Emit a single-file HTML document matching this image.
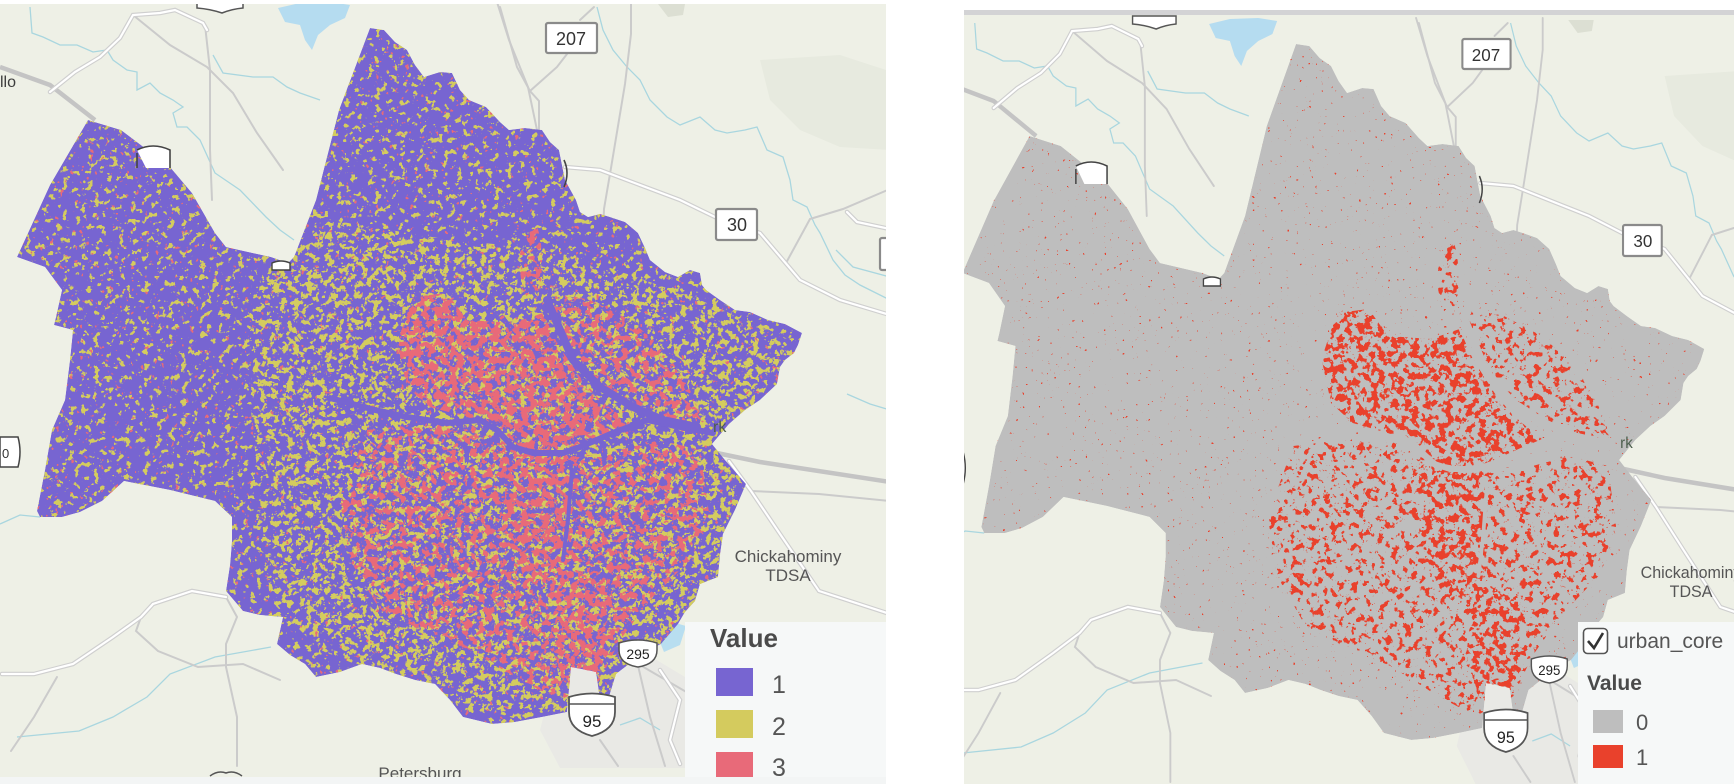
<!DOCTYPE html>
<html><head><meta charset="utf-8"><style>
html,body{margin:0;padding:0;background:#fff;overflow:hidden;width:1734px;height:784px;}
svg{display:block;}
text{font-family:"Liberation Sans",sans-serif;}
</style></head><body>
<svg width="1734" height="784" viewBox="0 0 1734 784" xmlns="http://www.w3.org/2000/svg" xmlns:xlink="http://www.w3.org/1999/xlink">
<defs>
<path id="county" d="M88,120 L121,130 L170,167 L192,193 L215,233 L226,247 L271,257 L288,263 L294,257 L316,200 L339,110 L370,28 L384,30 L395,42 L407,50 L415,65 L424,77 L440,72 L452,73 L460,90 L469,100 L486,107 L500,122 L509,130 L525,128 L542,130 L550,142 L559,150 L562,165 L565,180 L576,200 L580,212 L588,217 L600,214 L610,217 L625,222 L638,233 L645,248 L650,260 L665,272 L678,277 L690,270 L700,273 L702,285 L706,290 L720,300 L735,310 L750,312 L768,320 L785,324 L802,333 L798,345 L794,353 L785,360 L780,367 L777,384 L760,400 L745,410 L729,424 L712,444 L725,460 L746,484 L735,510 L723,534 L720,555 L718,577 L700,584 L695,601 L685,612 L678,624 L661,644 L645,652 L633,661 L616,674 L608,700 L600,700 L596,672 L571,667 L567,712 L542,717 L515,722 L492,724 L463,717 L450,700 L435,684 L415,680 L396,674 L380,668 L362,664 L340,672 L316,677 L305,664 L290,655 L277,644 L283,617 L260,615 L243,611 L226,591 L230,565 L232,541 L232,517 L215,501 L170,490 L124,481 L102,501 L80,512 L62,517 L40,517 L37,511 L45,470 L52,430 L65,400 L70,360 L73,330 L54,325 L56,317 L62,290 L45,267 L17,257 L50,185 Z"/>
<clipPath id="cCounty"><use xlink:href="#county"/></clipPath>
<clipPath id="cMid"><path d="M260,280 L330,220 L450,240 L560,250 L700,300 L790,340 L740,440 L720,580 L640,680 L520,720 L420,690 L320,650 L270,600 L260,500 L250,400 Z"/></clipPath>
<clipPath id="cCore"><path d="M397,343 L413,297 L447,293 L467,320 L513,323 L543,313 L557,343 L580,377 L600,400 L630,423 L580,447 L557,453 L520,447 L497,427 L467,417 L430,407 L407,387 Z"/></clipPath>
<clipPath id="cNE"><path d="M557,293 L590,300 L630,320 L665,350 L690,390 L705,425 L663,420 L633,407 L600,387 L573,360 L550,310 Z"/><ellipse cx="531" cy="262" rx="11" ry="42"/></clipPath>
<clipPath id="cSouth"><path d="M367,430 L410,425 L470,425 L500,440 L530,455 L600,455 L660,440 L700,450 L710,520 L690,560 L650,600 L620,640 L600,680 L560,700 L520,680 L470,650 L420,630 L380,610 L350,560 L340,500 Z"/></clipPath>
<clipPath id="cSD"><path d="M505,455 L568,455 L575,520 L565,575 L530,585 L505,540 Z"/><path d="M560,560 L610,590 L600,680 L570,700 L550,640 Z"/></clipPath>

<filter id="fy1" filterUnits="userSpaceOnUse" x="0" y="0" width="900" height="768" color-interpolation-filters="sRGB">
<feTurbulence type="fractalNoise" baseFrequency="0.16" numOctaves="3" seed="2"/>
<feColorMatrix type="matrix" values="0 0 0 0 0.831 0 0 0 0 0.800 0 0 0 0 0.369 30 0 0 0 -18.5"/>
</filter>
<filter id="fy2" filterUnits="userSpaceOnUse" x="0" y="0" width="900" height="768" color-interpolation-filters="sRGB">
<feTurbulence type="fractalNoise" baseFrequency="0.15" numOctaves="3" seed="5"/>
<feColorMatrix type="matrix" values="0 0 0 0 0.831 0 0 0 0 0.800 0 0 0 0 0.369 30 0 0 0 -17.3"/>
</filter>
<filter id="fp0" filterUnits="userSpaceOnUse" x="0" y="0" width="900" height="768" color-interpolation-filters="sRGB">
<feTurbulence type="fractalNoise" baseFrequency="0.2" numOctaves="2" seed="9"/>
<feColorMatrix type="matrix" values="0 0 0 0 0.910 0 0 0 0 0.416 0 0 0 0 0.475 30 0 0 0 -21.5"/>
</filter>
<filter id="fpM" filterUnits="userSpaceOnUse" x="0" y="0" width="900" height="768" color-interpolation-filters="sRGB">
<feTurbulence type="fractalNoise" baseFrequency="0.14" numOctaves="3" seed="7"/>
<feColorMatrix type="matrix" values="0 0 0 0 0.910 0 0 0 0 0.416 0 0 0 0 0.475 30 0 0 0 -16.6"/>
</filter>
<filter id="fpH" filterUnits="userSpaceOnUse" x="0" y="0" width="900" height="768" color-interpolation-filters="sRGB">
<feTurbulence type="fractalNoise" baseFrequency="0.14" numOctaves="3" seed="7"/>
<feColorMatrix type="matrix" values="0 0 0 0 0.910 0 0 0 0 0.416 0 0 0 0 0.475 30 0 0 0 -14.6"/>
</filter>
<filter id="fr0" filterUnits="userSpaceOnUse" x="0" y="0" width="900" height="768" color-interpolation-filters="sRGB">
<feTurbulence type="fractalNoise" baseFrequency="0.3" numOctaves="2" seed="11"/>
<feColorMatrix type="matrix" values="0 0 0 0 0.914 0 0 0 0 0.255 0 0 0 0 0.173 30 0 0 0 -23"/>
</filter>
<filter id="frM" filterUnits="userSpaceOnUse" x="0" y="0" width="900" height="768" color-interpolation-filters="sRGB">
<feTurbulence type="fractalNoise" baseFrequency="0.14" numOctaves="3" seed="7"/>
<feColorMatrix type="matrix" values="0 0 0 0 0.914 0 0 0 0 0.255 0 0 0 0 0.173 30 0 0 0 -17.6"/>
</filter>
<filter id="frH" filterUnits="userSpaceOnUse" x="0" y="0" width="900" height="768" color-interpolation-filters="sRGB">
<feTurbulence type="fractalNoise" baseFrequency="0.14" numOctaves="3" seed="7"/>
<feColorMatrix type="matrix" values="0 0 0 0 0.914 0 0 0 0 0.255 0 0 0 0 0.173 30 0 0 0 -15.3"/>
</filter>

<g id="base">
 <path d="M760,60 L840,55 L886,70 L890,150 L840,147 L800,130 L770,100 Z" fill="#e7eadf"/>
 <path d="M658,4 L685,4 L683,15 L668,17 Z" fill="#dcdfd3"/>
 <path d="M556,668 L640,650 L690,680 L700,740 L695,768 L560,768 L540,730 Z" fill="#e9e9e5"/>
 <path d="M278,8 L300,3 L330,2 L350,5 L345,18 L330,25 L318,35 L312,50 L305,40 L300,25 L285,22 Z" fill="#b5dcf0"/>
 <path d="M655,630 L672,622 L686,626 L680,645 L664,652 Z" fill="#b8def0"/>
 <g fill="none" stroke="#a9d6df" stroke-width="1.3">
  <path d="M30,7 L32,33 L43,37 L60,45 L77,45 L93,52 L107,50 L113,60 L127,70 L137,72 L137,90 L150,83 L160,93 L173,100 L183,107 L173,113 L177,127 L187,127 L200,140 L215,173 L240,190 L266,217 L280,230 L294,240"/>
  <path d="M213,55 L223,73 L253,77 L273,77 L287,87 L300,93 L320,100"/>
  <path d="M597,7 L603,30 L613,50 L627,67 L640,80 L650,100 L667,117 L680,125 L700,117 L715,130 L727,133 L745,130 L757,127 L767,150 L783,157 L790,180 L793,200 L807,207 L815,225 L820,233 L833,260 L845,275 L860,285 L890,300"/>
  <path d="M0,524 L20,515 L40,517"/>
  <path d="M17,737 L79,731 L113,717 L147,697 L170,674 L215,657 L271,647"/>
  <path d="M836,250 L853,267 L890,277"/>
  <path d="M847,394 L870,404 L890,410"/>
  <path d="M620,725 L640,718 L660,730"/>
 </g>
 <g fill="none" stroke="#cbcbcb" stroke-width="2" stroke-linecap="round">
  <path d="M133,15 L170,45 L207,67 L233,93 L257,133 L283,170"/>
  <path d="M205,25 L210,70 L210,150 L212,200"/>
  <path d="M497,2 L509,40 L528,87 L537,130"/>
  <path d="M500,7 L517,67 L530,91 L539,101 L539,131"/>
  <path d="M530,91 L557,67 L567,54"/>
  <path d="M580,20 L594,7"/>
  <path d="M631,2 L631,34 L625,84 L611,168 L604,209 L603,236"/>
  <path d="M786,263 L810,219 L843,209 L890,189"/>
  <path d="M226,597 L237,617 L226,644 L226,667 L237,717 L237,766"/>
  <path d="M141,617 L136,631 L158,651 L198,667 L243,664 L280,680"/>
  <path d="M57,677 L34,717 L11,751"/>
  <path d="M633,644 L650,717 L665,766"/>
  <path d="M751,491 L819,494 L890,501"/>
  <path d="M640,665 L700,700 L760,720 L820,700 L890,690"/>
  <path d="M600,740 L618,766"/>
 </g>
 <g fill="none" stroke="#c4c4c4" stroke-width="4.5">
  <path d="M0,67 L50,85 L95,120"/>
  <path d="M712,452 L760,462 L890,482"/>
 </g>
 <g fill="none" stroke-linecap="round">
  <path d="M50,92 L75,72 L100,57 L120,38 L133,15 L160,13 L175,10 L203,23 L207,30" stroke="#cfcfcf" stroke-width="4.5"/>
  <path d="M50,92 L75,72 L100,57 L120,38 L133,15 L160,13 L175,10 L203,23 L207,30" stroke="#fff" stroke-width="2.2"/>
  <path d="M565,167 L600,170 L640,185 L680,200 L715,217 L760,233 L783,260 L800,280 L840,300 L890,315" stroke="#cfcfcf" stroke-width="4.5"/>
  <path d="M565,167 L600,170 L640,185 L680,200 L715,217 L760,233 L783,260 L800,280 L840,300 L890,315" stroke="#fff" stroke-width="2.2"/>
  <path d="M847,212 L857,222 L890,229" stroke="#cfcfcf" stroke-width="4.5"/>
  <path d="M847,212 L857,222 L890,229" stroke="#fff" stroke-width="2.2"/>
  <path d="M2,674 L34,674 L73,664 L113,637 L141,617 L153,604 L192,591 L226,597" stroke="#cfcfcf" stroke-width="4.5"/>
  <path d="M2,674 L34,674 L73,664 L113,637 L141,617 L153,604 L192,591 L226,597" stroke="#fff" stroke-width="2.2"/>
  <path d="M729,461 L751,491 L780,534 L819,591 L890,614" stroke="#cfcfcf" stroke-width="4.5"/>
  <path d="M729,461 L751,491 L780,534 L819,591 L890,614" stroke="#fff" stroke-width="2.2"/>
  <path d="M660,670 L680,700 L670,740 L680,764" stroke="#cfcfcf" stroke-width="4.5"/>
  <path d="M660,670 L680,700 L670,740 L680,764" stroke="#fff" stroke-width="2.2"/>
 </g>
</g>

<g id="labels">
 <path d="M197,0 L243,0 L243,8 Q232,9 222,13 Q210,9 197,8 Z" fill="#fff" stroke="#555" stroke-width="1.5"/>
 <rect x="546" y="23" width="51" height="30" rx="2" fill="#fff" stroke="#8a8a8a" stroke-width="2.2"/>
 <text x="571" y="45" font-size="18" fill="#333" text-anchor="middle">207</text>
 <rect x="716" y="209" width="41" height="31" rx="2" fill="#fff" stroke="#8a8a8a" stroke-width="2.2"/>
 <text x="737" y="231" font-size="18" fill="#333" text-anchor="middle">30</text>
 <rect x="880" y="238" width="20" height="32" rx="2" fill="#fff" stroke="#8a8a8a" stroke-width="2.2"/>
 <path d="M137,150 Q153,142 170,150 L170,168 L146,168 Z" fill="#fff"/>
 <path d="M137,150 Q153,142 170,150 L170,168" fill="none" stroke="#444" stroke-width="1.6"/>
 <path d="M137,153 L137,168" fill="none" stroke="#444" stroke-width="1.6"/>
 <path d="M272,263 Q281,259 290,263 L290,270 L272,270 Z" fill="#fff" stroke="#444" stroke-width="1.4"/>
 <path d="M564,160 Q570,173 564,187" fill="none" stroke="#444" stroke-width="1.6"/>
 <path d="M0,437 L18,437 Q22,452 18,467 L0,467 Z" fill="#fff" stroke="#444" stroke-width="1.5"/>
 <text x="2" y="458" font-size="13" fill="#333">0</text>
 <path d="M619,643 Q638,637 657,643 L657,650 Q657,664 638,667 Q619,664 619,650 Z" fill="#fff" stroke="#555" stroke-width="1.5"/>
 <text x="638" y="659" font-size="14" fill="#222" text-anchor="middle">295</text>
 <path d="M569,697 Q592,690 615,697 L615,712 Q615,730 592,736 Q569,730 569,712 Z" fill="#fff" stroke="#555" stroke-width="1.8"/>
 <path d="M569,704 L615,704" stroke="#555" stroke-width="1.5"/>
 <text x="592" y="727" font-size="17" fill="#222" text-anchor="middle">95</text>
 <text x="0" y="87" font-size="16" fill="#3d3d3d">llo</text>
 <text x="713" y="432" font-size="16" fill="#4d5f4e">rk</text>
 <text x="788" y="562" font-size="17" fill="#555" text-anchor="middle">Chickahominy</text>
 <text x="788" y="581" font-size="17" fill="#555" text-anchor="middle">TDSA</text>
</g>

<clipPath id="cLeft"><rect x="0" y="4" width="886" height="773"/></clipPath>
<clipPath id="cRight"><rect x="964" y="15" width="770" height="769"/></clipPath>
</defs>

<!-- LEFT PANEL -->
<rect x="0" y="4" width="886" height="773" fill="#eef0e6"/>
<g clip-path="url(#cLeft)">
 <use xlink:href="#base"/>
 <g clip-path="url(#cCounty)">
  <use xlink:href="#county" fill="#7765d1"/>
  <rect x="0" y="0" width="886" height="768" filter="url(#fy1)"/>
  <g clip-path="url(#cMid)"><rect x="0" y="0" width="886" height="768" filter="url(#fy2)"/></g>
  <rect x="0" y="0" width="886" height="768" filter="url(#fp0)"/>
  <g clip-path="url(#cNE)"><rect x="0" y="0" width="886" height="768" filter="url(#fpM)"/></g>
  <g clip-path="url(#cSouth)"><rect x="0" y="0" width="886" height="768" filter="url(#fpM)"/></g>
  <g clip-path="url(#cCore)"><rect x="0" y="0" width="886" height="768" filter="url(#fpH)"/></g>
  <g clip-path="url(#cSD)"><rect x="0" y="0" width="886" height="768" filter="url(#fpH)"/></g>
  <g fill="none" stroke="#7765d1" stroke-linecap="round" stroke-linejoin="round">
   <path d="M330,398 L375,410 L407,417 L447,423 L480,420 L497,430 L513,447 L533,453 L563,453 L580,447 L613,433 L647,420 L680,427 L713,433" stroke-width="6"/>
   <path d="M547,300 L560,330 L573,360 L600,387 L633,407 L663,420 L697,427" stroke-width="8"/>
   <path d="M572,470 L568,520 L563,560" stroke-width="4"/>
  </g>
 </g>
 <use xlink:href="#labels"/>
 <path d="M210,776 Q218,770 226,773 Q234,770 242,776" fill="none" stroke="#555" stroke-width="1.5"/>
 <text x="420" y="779" font-size="17" fill="#555" text-anchor="middle">Petersburg</text>
</g>
<rect x="0" y="777" width="886" height="7" fill="#f3f5f5"/>
<!-- left legend -->
<rect x="685" y="622" width="201" height="155" fill="#f6f8f8"/>
<text x="710" y="647" font-size="26" font-weight="bold" fill="#4a4a4a">Value</text>
<rect x="716" y="668" width="37" height="28" fill="#7765d1"/>
<rect x="716" y="710" width="37" height="28" fill="#d4cb5e"/>
<rect x="716" y="752" width="37" height="25" fill="#e86a79"/>
<text x="772" y="693" font-size="25" fill="#555">1</text>
<text x="772" y="735" font-size="25" fill="#555">2</text>
<text x="772" y="776" font-size="25" fill="#555">3</text>

<!-- RIGHT PANEL -->
<rect x="964" y="10" width="770" height="5" fill="#d3d3d5"/>
<rect x="964" y="15" width="770" height="769" fill="#eef0e6"/>
<g clip-path="url(#cRight)">
 <g transform="matrix(0.945,0,0,1,946.4,16)">
  <use xlink:href="#base"/>
  <g clip-path="url(#cCounty)">
   <use xlink:href="#county" fill="#bebebe"/>
   <rect x="0" y="0" width="886" height="768" filter="url(#fr0)"/>
   <g clip-path="url(#cNE)"><rect x="0" y="0" width="886" height="768" filter="url(#frM)"/></g>
   <g clip-path="url(#cSouth)"><rect x="0" y="0" width="886" height="768" filter="url(#frM)"/></g>
   <g clip-path="url(#cCore)"><rect x="0" y="0" width="886" height="768" filter="url(#frH)"/></g>
   <g clip-path="url(#cSD)"><rect x="0" y="0" width="886" height="768" filter="url(#frH)"/></g>
   <g fill="none" stroke="#bebebe" stroke-linecap="round" stroke-linejoin="round">
    <path d="M330,398 L375,410 L407,417 L447,423 L480,420 L497,430 L513,447 L533,453 L563,453 L580,447 L613,433 L647,420 L680,427 L713,433" stroke-width="6"/>
    <path d="M547,300 L560,330 L573,360 L600,387 L633,407 L663,420 L697,427" stroke-width="8"/>
    <path d="M572,470 L568,520 L563,560" stroke-width="4"/>
   </g>
  </g>
  <use xlink:href="#labels"/>
 </g>
</g>
<!-- right legend -->
<rect x="1578" y="622" width="156" height="162" fill="#f6f8f8"/>
<rect x="1583.5" y="628.5" width="24" height="25" rx="4" fill="#fff" stroke="#555" stroke-width="1.6"/>
<path d="M1588,641 L1594,648 L1603,633" fill="none" stroke="#333" stroke-width="2.6"/>
<text x="1617" y="648" font-size="21" fill="#555">urban_core</text>
<text x="1587" y="690" font-size="21" font-weight="bold" fill="#4a4a4a">Value</text>
<rect x="1593" y="710" width="30" height="23" fill="#bebebe"/>
<rect x="1593" y="745" width="30" height="23" fill="#e9412c"/>
<text x="1636" y="730" font-size="22" fill="#555">0</text>
<text x="1636" y="765" font-size="22" fill="#555">1</text>
</svg>
</body></html>
